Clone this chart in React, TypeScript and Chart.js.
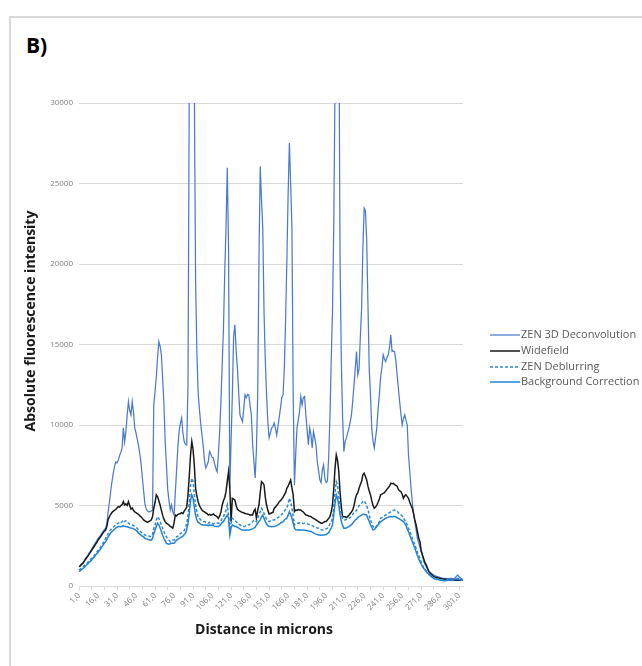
import React, { useEffect, useRef } from 'react';
import { Chart, registerables } from 'chart.js';

Chart.register(...registerables);

const categories: string[] = Array.from({ length: 304 }, (_, i) => `${i + 1},0`);

const seriesNames = ['ZEN 3D Deconvolution', 'Widefield', 'ZEN Deblurring', 'Background Correction'];

const deconvolution = [
  1200, 1250, 1380, 1420, 1550, 1700, 1780, 1900, 2050, 2150,
  2300, 2420, 2550, 2680, 2800, 2950, 3050, 3150, 3280, 3400,
  3500, 3600, 3900, 4600, 5200, 5900, 6460, 7000, 7400, 7700,
  7650, 7800, 8100, 8300, 8580, 9820, 8950, 9600, 10600, 11450,
  10900, 10630, 11450, 10800, 9820, 9500, 9100, 8700, 8200, 7600,
  6710, 5900, 5100, 4800, 4650, 4600, 4620, 4660, 4700, 11250,
  12080, 13000, 14200, 15180, 14900, 14360, 12900, 11300, 9000, 7500,
  6000, 5300, 4720, 5030, 4600, 4410, 5800, 7200, 8600, 9600,
  10100, 10440, 9500, 8970, 8800, 8760, 12500, 31000, 38000, 42000,
  37000, 31000, 19000, 14500, 12000, 11000, 10100, 9400, 8700, 7800,
  7330, 7500, 7730, 8350, 8200, 8000, 7950, 7600, 7300, 7100,
  8200, 9600, 11500, 13800, 16030, 19500, 22250, 25980, 21000, 6090,
  9000, 11870, 15500, 16220, 14600, 13550, 12000, 10630, 10400, 10210,
  11000, 11870, 11700, 11900, 11870, 11200, 10630, 8800, 7730, 6710,
  8500, 11870, 20150, 26060, 24000, 22250, 17000, 14000, 11870, 10200,
  9200, 9500, 9820, 9900, 10130, 9800, 9380, 9900, 10500, 11060,
  11700, 11870, 13500, 16500, 20150, 24300, 27510, 25000, 22250, 11870,
  6280, 8200, 9820, 10300, 10830, 11770, 11250, 11700, 11770, 10630,
  9700, 8760, 9820, 9400, 8580, 9590, 9200, 8760, 7730, 7200,
  6600, 6420, 7200, 7520, 6700, 6420, 6500, 8000, 10500, 13940,
  17000, 22250, 31000, 40000, 42000, 36000, 20150, 13940, 10500, 8350,
  9000, 9200, 9500, 9820, 10200, 10630, 11500, 12490, 13500, 14560,
  13110, 13500, 15500, 17260, 21000, 23470, 23300, 21500, 17500, 13500,
  11870, 9820, 9000, 8580, 9200, 9820, 11000, 11870, 13000, 13530,
  14360, 14100, 13940, 14200, 14360, 14800, 15600, 14560, 14600, 14560,
  14000, 13110, 12300, 11450, 10700, 10000, 10400, 10630, 10300, 10000,
  8140, 7100, 6070, 5200, 4500, 4000, 3500, 2960, 2700, 2400,
  2130, 1900, 1510, 1350, 1200, 1040, 950, 850, 790, 720,
  680, 640, 600, 580, 560, 520, 500, 480, 470, 460,
  470, 450, 470, 460, 480, 450, 470, 500, 620, 680,
  560, 480, 450, 430,
];

const widefield = [
  1200, 1240, 1350, 1400, 1520, 1650, 1750, 1850, 1980, 2100,
  2220, 2350, 2450, 2580, 2700, 2850, 2950, 3050, 3180, 3300,
  3400, 3480, 3700, 4140, 4300, 4450, 4560, 4650, 4700, 4770,
  4850, 4930, 4900, 5000, 5050, 5240, 5030, 5100, 5000, 5240,
  5000, 4770, 4850, 4700, 4600, 4560, 4500, 4450, 4350, 4300,
  4200, 4100, 4050, 4000, 3950, 4000, 4050, 4100, 4300, 4830,
  5200, 5660, 5550, 5300, 5030, 4700, 4400, 4150, 4000, 3900,
  3850, 3790, 3700, 3650, 3590, 3900, 4410, 4350, 4450, 4470,
  4500, 4560, 4500, 4650, 4770, 4900, 5660, 6800, 8140, 8970,
  8500, 7500, 6070, 5600, 5240, 5000, 4850, 4720, 4650, 4600,
  4550, 4500, 4410, 4450, 4400, 4420, 4470, 4400, 4350, 4300,
  4200, 4350, 4600, 5030, 5300, 5500, 5860, 6500, 7100, 6070,
  4000, 5450, 5400, 5340, 5000, 4770, 4700, 4650, 4600, 4560,
  4550, 4500, 4480, 4470, 4450, 4400, 4420, 4410, 4650, 4770,
  4210, 4700, 5030, 5800, 6480, 6400, 6280, 5500, 5030, 4700,
  4470, 4500, 4550, 4560, 4830, 4900, 5000, 5100, 5240, 5300,
  5400, 5500, 5660, 5800, 6070, 6200, 6400, 6590, 6100, 5660,
  4620, 4720, 4700, 4750, 4720, 4720, 4650, 4600, 4500, 4410,
  4400, 4350, 4330, 4310, 4250, 4200, 4150, 4100, 4050, 4000,
  3950, 3900, 3900, 3950, 4000, 4000, 4100, 4200, 4310, 4600,
  5030, 6000, 7310, 8140, 7800, 7100, 5800, 4900, 4310, 4300,
  4300, 4250, 4310, 4400, 4500, 4600, 4720, 5000, 5400, 5660,
  5800, 6070, 6300, 6500, 6900, 7000, 6800, 6590, 6200, 5900,
  5660, 5300, 5000, 4830, 4900, 5030, 5200, 5400, 5660, 5700,
  5760, 5800, 5900, 6000, 6100, 6200, 6380, 6350, 6380, 6300,
  6250, 6200, 6000, 5900, 5860, 5700, 5450, 5600, 5660, 5550,
  5450, 5200, 5000, 4830, 4500, 4100, 3790, 3400, 3000, 2750,
  2200, 1930, 1700, 1450, 1310, 1100, 890, 800, 720, 650,
  580, 560, 530, 510, 490, 470, 450, 440, 430, 420,
  400, 400, 390, 380, 380, 370, 360, 360, 350, 350,
  350, 350, 350, 350,
];

const deblurring = [
  1000, 1050, 1120, 1180, 1250, 1330, 1400, 1480, 1560, 1640,
  1720, 1820, 1900, 2000, 2100, 2200, 2300, 2420, 2550, 2680,
  2820, 2960, 3100, 3250, 3380, 3500, 3590, 3650, 3720, 3800,
  3850, 3900, 3950, 3900, 4000, 4100, 4000, 4050, 3950, 3900,
  3850, 3800, 3790, 3750, 3700, 3650, 3580, 3480, 3420, 3350,
  3300, 3250, 3170, 3150, 3120, 3100, 3080, 3070, 3200, 3550,
  3790, 4100, 4310, 4200, 4000, 3790, 3600, 3400, 3170, 3050,
  2950, 2850, 2750, 2800, 2850, 2850, 2950, 3050, 3100, 3170,
  3250, 3300, 3350, 3450, 3590, 3900, 4400, 5200, 6200, 6690,
  6480, 5700, 5030, 4600, 4300, 4210, 4100, 4050, 4000, 4000,
  3950, 3950, 3900, 3950, 3900, 3900, 3850, 3900, 3880, 3900,
  3900, 3950, 4050, 4200, 4310, 4500, 4700, 5030, 4410, 3590,
  3900, 4210, 4150, 4050, 4000, 3900, 3850, 3800, 3750, 3690,
  3700, 3720, 3750, 3780, 3790, 3850, 3900, 4000, 4100, 4050,
  4000, 4200, 4450, 4620, 4830, 4700, 4500, 4310, 4150, 4050,
  4000, 4050, 4100, 4100, 4100, 4150, 4200, 4250, 4300, 4410,
  4450, 4550, 4650, 4750, 4830, 5100, 5450, 5200, 4830, 4300,
  3790, 3850, 3900, 3900, 3920, 3900, 3900, 3880, 3900, 3870,
  3850, 3830, 3800, 3790, 3750, 3700, 3680, 3650, 3600, 3590,
  3550, 3500, 3480, 3480, 3500, 3550, 3590, 3700, 3850, 4000,
  4210, 5000, 5800, 6480, 6280, 5600, 4830, 4400, 4200, 4100,
  4100, 4150, 4200, 4210, 4250, 4300, 4450, 4550, 4620, 4700,
  4850, 5000, 5030, 5150, 5250, 5300, 5150, 5000, 4750, 4400,
  4100, 3900, 3700, 3590, 3650, 3750, 3850, 4000, 4210, 4250,
  4300, 4350, 4410, 4450, 4500, 4550, 4620, 4650, 4700, 4720,
  4700, 4650, 4550, 4450, 4410, 4350, 4210, 4100, 3950, 3800,
  3590, 3400, 3200, 2960, 2750, 2550, 2340, 2100, 1900, 1720,
  1500, 1300, 1150, 1040, 950, 850, 760, 680, 620, 560,
  470, 450, 430, 420, 400, 390, 380, 370, 360, 360,
  380, 400, 420, 380, 360, 380, 400, 430, 450, 470,
  430, 390, 370, 360,
];

const backgroundCorrection = [
  890, 950, 1020, 1080, 1150, 1230, 1300, 1380, 1460, 1540,
  1620, 1720, 1800, 1900, 2000, 2100, 2200, 2300, 2420, 2550,
  2650, 2750, 2900, 3050, 3180, 3300, 3380, 3450, 3520, 3600,
  3650, 3690, 3700, 3680, 3700, 3750, 3690, 3700, 3680, 3650,
  3620, 3600, 3590, 3550, 3500, 3450, 3380, 3280, 3220, 3150,
  3100, 3050, 2960, 2930, 2900, 2880, 2860, 2850, 2950, 3250,
  3480, 3700, 3900, 3800, 3600, 3380, 3150, 2950, 2800, 2650,
  2620, 2600, 2620, 2650, 2650, 2660, 2750, 2850, 2900, 2960,
  3000, 3050, 3100, 3200, 3280, 3500, 3900, 4500, 5300, 5660,
  5450, 4900, 4410, 4100, 3950, 3900, 3850, 3800, 3790, 3790,
  3780, 3790, 3750, 3790, 3780, 3790, 3750, 3720, 3700, 3700,
  3690, 3750, 3850, 3950, 4000, 4150, 4300, 4410, 4210, 3170,
  3600, 3790, 3750, 3700, 3690, 3650, 3600, 3550, 3500, 3480,
  3480, 3470, 3480, 3480, 3480, 3500, 3520, 3550, 3590, 3650,
  3790, 3900, 4000, 4100, 4300, 4410, 4200, 4000, 3850, 3750,
  3690, 3700, 3680, 3690, 3690, 3720, 3750, 3800, 3850, 3900,
  3950, 4000, 4100, 4150, 4210, 4400, 4620, 4450, 4210, 3900,
  3590, 3500, 3480, 3480, 3490, 3480, 3470, 3480, 3480, 3450,
  3450, 3420, 3400, 3380, 3350, 3300, 3250, 3220, 3200, 3170,
  3170, 3160, 3170, 3170, 3180, 3200, 3250, 3300, 3450, 3600,
  3790, 4400, 5100, 5660, 5450, 5000, 4410, 4000, 3750, 3590,
  3590, 3600, 3650, 3690, 3750, 3800, 3900, 4000, 4100, 4150,
  4250, 4310, 4350, 4400, 4450, 4450, 4420, 4400, 4200, 4000,
  3790, 3650, 3480, 3500, 3600, 3690, 3800, 3900, 4000, 4050,
  4100, 4150, 4210, 4250, 4280, 4300, 4310, 4300, 4310, 4310,
  4300, 4250, 4200, 4150, 4100, 4050, 4000, 3900, 3750, 3550,
  3380, 3150, 2950, 2750, 2550, 2350, 2130, 1900, 1700, 1510,
  1350, 1200, 1100, 990, 900, 800, 720, 640, 580, 520,
  470, 440, 420, 400, 380, 360, 350, 340, 330, 330,
  340, 360, 380, 350, 340, 360, 380, 420, 450, 470,
  420, 380, 370, 360,
];

const yTickValues = [0, 5000, 10000, 15000, 20000, 25000, 30000];

const FONT = '"Open Sans", "Noto Sans", sans-serif';

export default function App() {
  const canvasRef = useRef<HTMLCanvasElement | null>(null);

  useEffect(() => {
    const canvas = canvasRef.current;
    if (!canvas) return;

    const overlay = {
      id: 'overlay',
      afterDraw(chart: any) {
        const ctx = chart.ctx as CanvasRenderingContext2D;
        ctx.save();
        // Y title
        ctx.fillStyle = '#1a1a1a';
        ctx.font = `bold 14px ${FONT}`;
        ctx.textAlign = 'center';
        ctx.textBaseline = 'middle';
        ctx.save();
        ctx.translate(31, 321);
        ctx.rotate(-Math.PI / 2);
        ctx.fillText('Absolute fluorescence intensity', 0, 0);
        ctx.restore();
        // X title
        ctx.fillText('Distance in microns', 264, 630);
        // Legend
        const rows = [335, 351, 367, 382];
        chart.data.datasets.forEach((ds: any, i: number) => {
          const y = rows[i];
          ctx.beginPath();
          ctx.strokeStyle = ds.borderColor;
          ctx.lineWidth = ds.borderWidth;
          ctx.setLineDash(ds.borderDash || []);
          ctx.moveTo(490, y);
          ctx.lineTo(520, y);
          ctx.stroke();
          ctx.setLineDash([]);
          ctx.fillStyle = '#595959';
          ctx.font = `11px ${FONT}`;
          ctx.textAlign = 'left';
          ctx.textBaseline = 'middle';
          ctx.fillText(ds.label, 521, y);
        });
        ctx.restore();
      },
    };

    const chart = new Chart(canvas, {
      type: 'line',
      data: {
        labels: categories,
        datasets: [
          { label: seriesNames[0], data: deconvolution, borderColor: '#4a7bd0', borderWidth: 1.25, pointRadius: 0, tension: 0, order: 4 },
          { label: seriesNames[1], data: widefield, borderColor: '#1a1a1a', borderWidth: 1.5, pointRadius: 0, tension: 0, order: 3 },
          { label: seriesNames[2], data: deblurring, borderColor: '#2b8ad6', borderWidth: 1.5, borderDash: [3, 2], pointRadius: 0, tension: 0, order: 2 },
          { label: seriesNames[3], data: backgroundCorrection, borderColor: '#2383d2', borderWidth: 1.5, pointRadius: 0, tension: 0, order: 1 },
        ],
      },
      options: {
        responsive: false,
        animation: false,
        events: [],
        layout: { padding: { left: 0, top: 103, right: 179, bottom: 0 } },
        plugins: { legend: { display: false }, tooltip: { enabled: false }, title: { display: false } },
        scales: {
          x: {
            type: 'category',
            offset: false,
            grid: {
              drawOnChartArea: false,
              drawTicks: true,
              tickLength: 4,
              color: (c: any) => (c.index % 10 === 0 ? '#d9d9d9' : 'rgba(0,0,0,0)'),
            },
            border: { display: true, color: '#d9d9d9', width: 1 },
            ticks: {
              autoSkip: false,
              minRotation: 45,
              maxRotation: 45,
              padding: 1,
              color: '#7f7f7f',
              font: { family: FONT, size: 8 },
              callback: (_v: any, i: number) => (i % 15 === 0 ? categories[i] : ''),
            },
            afterFit: (s: any) => { s.height = 80; },
          },
          y: {
            min: 0,
            max: 30000,
            afterBuildTicks: (s: any) => { s.ticks = yTickValues.map((v) => ({ value: v })); },
            grid: { color: '#d9d9d9', drawTicks: false, lineWidth: 1 },
            border: { display: false },
            ticks: {
              padding: 6,
              color: '#7f7f7f',
              font: { family: FONT, size: 8 },
              callback: (v: any) => String(v),
            },
            afterFit: (s: any) => { s.width = 79; },
          },
        },
      },
      plugins: [overlay],
    });

    return () => chart.destroy();
  }, []);

  return (
    <div style={{ position: 'fixed', left: 0, top: 0, width: 642, height: 666, overflow: 'hidden', background: '#fff' }}>
      <div style={{ position: 'absolute', left: 9, top: 16, width: 700, height: 700, border: '2px solid #d9d9d9', boxSizing: 'border-box' }} />
      <div style={{ position: 'absolute', left: 26, top: 31, fontFamily: FONT, fontWeight: 700, fontSize: 21, color: '#000', lineHeight: '28px' }}>B)</div>
      <canvas ref={canvasRef} width={642} height={666} style={{ position: 'absolute', left: 0, top: 0, width: 642, height: 666 }} />
    </div>
  );
}
